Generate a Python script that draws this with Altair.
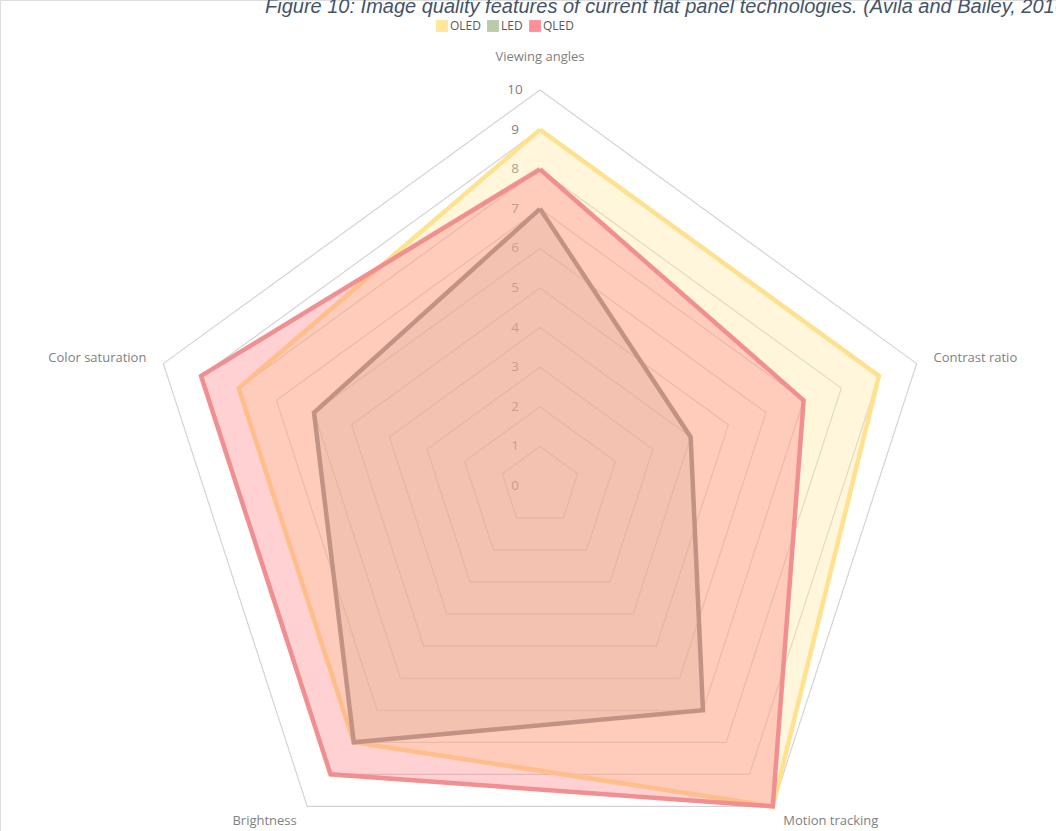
import altair as alt
import pandas as pd

# ---- data ----
categories = ["Viewing angles", "Contrast ratio", "Motion tracking", "Brightness", "Color saturation"]
series = ["OLED", "LED", "QLED"]
oled = [9, 9, 10, 8, 8]
led = [7, 4, 7, 8, 6]
qled = [8, 7, 10, 9, 9]
ticks = [0, 1, 2, 3, 4, 5, 6, 7, 8, 9, 10]
title_text = "Figure 10: Image quality features of current flat panel technologies. (Avila and Bailey, 2016)"

N = len(categories)
values = {"OLED": oled, "LED": led, "QLED": qled}

rows = []
for s in series:
    vals = values[s]
    for i in range(N + 1):
        k = i % N
        rows.append({"series": s, "k": k, "order": i, "value": vals[k]})
df = pd.DataFrame(rows)

grid_rows = []
for r in ticks[1:]:
    for i in range(N + 1):
        grid_rows.append({"ring": r, "k": i % N, "order": i, "value": r})
grid_df = pd.DataFrame(grid_rows)

cat_df = pd.DataFrame({"category": categories, "k": list(range(N)), "value": [10.45] * N})
tick_df = pd.DataFrame({"tick": ticks})

px = f"datum.value * sin(datum.k * 2 * PI / {N})"
py = f"datum.value * cos(datum.k * 2 * PI / {N})"

xs = alt.Scale(domain=[-13.636, 13.030], nice=False, zero=False)
ys = alt.Scale(domain=[-8.712, 12.273], nice=False, zero=False)
X = alt.X("px:Q", scale=xs, axis=None)
Y = alt.Y("py:Q", scale=ys, axis=None)

grid = alt.Chart(grid_df).transform_calculate(px=px, py=py).mark_line(
    stroke="#D4D4D4", strokeWidth=1.2
).encode(x=X, y=Y, detail="ring:N", order="order:Q")

tick_labels = alt.Chart(tick_df).transform_calculate(px="0", py="datum.tick").mark_text(
    font="Open Sans", fontSize=13.5, color="#808080", align="center", baseline="middle", dx=-25
).encode(x=X, y=Y, text="tick:N")

style = {
    "OLED": dict(fill="#FFE699", fillOpacity=0.35, stroke="#FFE08A", strokeWidth=4.5, strokeOpacity=0.95),
    "LED": dict(fill="#C9C9A0", fillOpacity=0.3, stroke="#A2A088", strokeWidth=4.5, strokeOpacity=1),
    "QLED": dict(fill="#FF7C80", fillOpacity=0.35, stroke="#F08A8C", strokeWidth=4.5, strokeOpacity=0.95),
}

series_layers = []
for s in series:
    series_layers.append(
        alt.Chart(df).transform_filter(alt.datum.series == s).transform_calculate(px=px, py=py)
        .mark_line(strokeJoin="miter", **style[s])
        .encode(x=X, y=Y, order="order:Q")
    )

label_common = dict(font="Open Sans", fontSize=13, color="#7F7F7F", baseline="middle")
cat_base = alt.Chart(cat_df).transform_calculate(px=px, py=py, s=f"sin(datum.k * 2 * PI / {N})")
cat_top = cat_base.transform_filter("abs(datum.s) < 0.1").mark_text(align="center", dy=-15, **label_common).encode(x=X, y=Y, text="category:N")
cat_right = cat_base.transform_filter("datum.s >= 0.1").mark_text(align="left", **label_common).encode(x=X, y=Y, text="category:N")
cat_left = cat_base.transform_filter("datum.s <= -0.1").mark_text(align="right", **label_common).encode(x=X, y=Y, text="category:N")

legend_colors = ["#FFE699", "#B9CBA9", "#FF8F96"]
legend_layer = alt.Chart(pd.DataFrame({"series": series})).mark_square(size=0, opacity=1).encode(
    x=alt.value(-200), y=alt.value(-200),
    color=alt.Color("series:N", scale=alt.Scale(domain=series, range=legend_colors),
                    legend=alt.Legend(orient="none", legendX=436, legendY=20, direction="horizontal",
                                      title=None, symbolType="square", symbolSize=140,
                                      symbolStrokeWidth=0, symbolOpacity=1,
                                      labelFont="Open Sans", labelFontSize=12, labelColor="#595959",
                                      labelOffset=2, columnPadding=6))
)

title_layer = alt.Chart(pd.DataFrame({"t": [title_text]})).mark_text(
    font="Liberation Sans", fontSize=20, fontStyle="italic", color="#44546A", align="left", baseline="alphabetic"
).encode(x=alt.value(265), y=alt.value(13), text="t:N")

chart = alt.layer(
    grid, tick_labels, *series_layers, cat_top, cat_right, cat_left, legend_layer, title_layer
).properties(
    width=1056, height=831, autosize=alt.AutoSizeParams(type="none"), padding=0
).configure_view(strokeWidth=0).configure(background="white")

chart.save("out.html", embed_options={"renderer": "svg", "actions": False})
